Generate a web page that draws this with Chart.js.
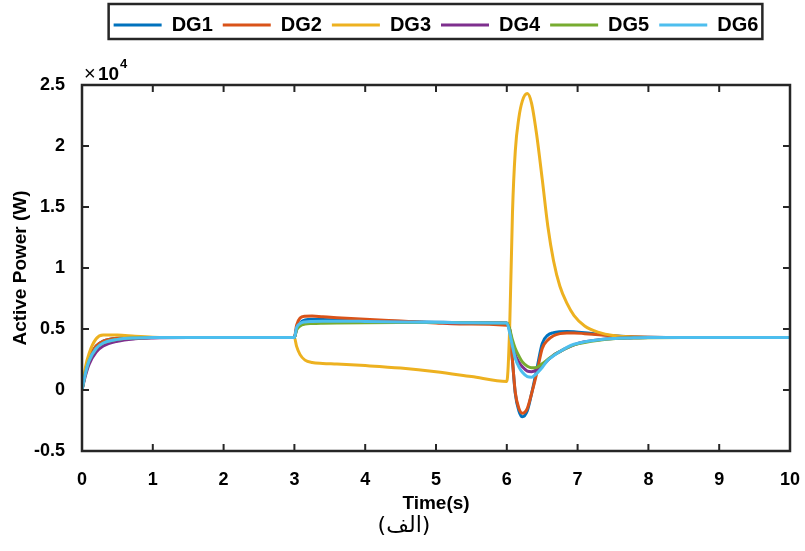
<!DOCTYPE html>
<html>
<head>
<meta charset="utf-8">
<title>Active Power - DG1..DG6</title>
<script src="https://cdn.jsdelivr.net/npm/chart.js@4.4.1/dist/chart.umd.min.js"></script>
<style>
    html, body { margin: 0; padding: 0; background: #ffffff; }
    #powerChart { display: block; }
</style>
</head>
<body>
<canvas id="powerChart" width="805" height="551"></canvas>
<script>
// Temps de simulation (s)
const TIME = [0, 0.05, 0.1, 0.2, 0.3, 0.5, 0.75, 1, 1.5, 2,
              2.5, 3, 3.03, 3.08, 3.15, 3.25, 3.4, 3.6, 4, 4.5,
              5, 5.5, 6, 6.04, 6.08, 6.12, 6.17, 6.22, 6.29, 6.35,
              6.42, 6.5, 6.58, 6.66, 6.75, 6.85, 6.95, 7.1, 7.3, 7.5,
              7.75, 8, 8.5, 9, 10];

// Puissance active de chaque DG (W)
const DG1 = [0, 1500, 2600, 3600, 4000, 4250, 4300, 4300, 4300, 4300,
             4300, 4300, 5000, 5500, 5750, 5800, 5780, 5750, 5700, 5620,
             5560, 5520, 5480, 5000, 2400, -300, -1700, -2200, -1700, -300,
             1600, 3800, 4500, 4700, 4780, 4800, 4780, 4700, 4560, 4450,
             4370, 4330, 4300, 4300, 4300];
const DG2 = [0, 1500, 2600, 3600, 4000, 4250, 4300, 4300, 4300, 4300,
             4300, 4300, 5300, 5900, 6050, 6070, 6000, 5930, 5800, 5650,
             5500, 5400, 5300, 5000, 2400, -200, -1500, -1900, -1500, -300,
             1300, 3400, 4100, 4450, 4620, 4680, 4680, 4620, 4520, 4430,
             4360, 4320, 4300, 4300, 4300];
const DG3 = [0, 1900, 3000, 4200, 4500, 4500, 4400, 4330, 4300, 4300,
             4300, 4300, 3600, 2900, 2450, 2250, 2180, 2130, 2000, 1800,
             1500, 1100, 700, 5000, 14500, 19600, 22300, 23700, 24300, 23500,
             21000, 17300, 13400, 10600, 8500, 7100, 6100, 5250, 4720, 4460,
             4350, 4310, 4300, 4300, 4300];
const DG4 = [0, 1200, 2100, 3100, 3600, 4000, 4200, 4270, 4300, 4300,
             4300, 4300, 5000, 5400, 5550, 5600, 5600, 5590, 5570, 5550,
             5530, 5510, 5500, 4900, 3800, 2900, 2300, 1900, 1550, 1500,
             1650, 2000, 2450, 2850, 3150, 3450, 3700, 3950, 4120, 4220,
             4270, 4300, 4300, 4300, 4300];
const DG5 = [0, 1400, 2400, 3400, 3850, 4150, 4270, 4300, 4300, 4300,
             4300, 4300, 4900, 5250, 5400, 5450, 5480, 5500, 5520, 5530,
             5530, 5520, 5500, 5000, 4100, 3400, 2800, 2300, 1950, 1820,
             1850, 2150, 2500, 2850, 3150, 3450, 3700, 3900, 4080, 4200,
             4260, 4290, 4300, 4300, 4300];
const DG6 = [0, 1400, 2400, 3400, 3850, 4150, 4270, 4300, 4300, 4300,
             4300, 4300, 5100, 5450, 5580, 5620, 5640, 5640, 5620, 5580,
             5550, 5520, 5500, 4700, 3600, 2600, 1900, 1450, 1100, 1050,
             1350, 1850, 2450, 2800, 3150, 3500, 3750, 3950, 4120, 4220,
             4270, 4300, 4300, 4300, 4300];

const SERIES = [DG1, DG2, DG3, DG4, DG5, DG6];
const SERIES_NAMES = ['DG1', 'DG2', 'DG3', 'DG4', 'DG5', 'DG6'];
const SERIES_COLORS = ['#0072BD', '#D95319', '#EDB120', '#7E2F8E', '#77AC30', '#4DBEEE'];

const Y_MULTIPLIER = 10000; // axe affiché en x10^4
const X_TITLE = 'Time(s)';
const Y_TITLE = 'Active Power (W)';
const CAPTION = '(الف)';

const AXIS_COLOR = '#262626';
const FONT_FAMILY = '"Liberation Sans", Arial, sans-serif';

// Construit les datasets {x, y} à partir des tableaux
function buildDatasets() {
    return SERIES.map((values, i) => ({
        label: SERIES_NAMES[i],
        data: values.map((v, k) => ({ x: TIME[k], y: v })),
        borderColor: SERIES_COLORS[i],
        backgroundColor: SERIES_COLORS[i],
        borderWidth: 3,
        pointRadius: 0,
        cubicInterpolationMode: 'monotone',
        order: SERIES.length - i // DG6 dessiné au-dessus
    }));
}

// Hauteur réservée au-dessus du graphe pour la légende
const legendHeight = {
    id: 'legendHeight',
    beforeInit(chart) {
        const originalFit = chart.legend.fit;
        chart.legend.fit = function fit() {
            originalFit.bind(chart.legend)();
            this.height = 80;
        };
    }
};

// Cadre style MATLAB : boîte, graduations internes, multiplicateur, bord de légende, légende (الف)
const matlabFrame = {
    id: 'matlabFrame',
    afterDatasetsDraw(chart) {
        const { ctx, chartArea: a, scales } = chart;
        ctx.save();
        ctx.strokeStyle = AXIS_COLOR;
        ctx.lineWidth = 2.5;
        ctx.strokeRect(a.left, a.top, a.right - a.left, a.bottom - a.top);

        const tick = 7;
        ctx.lineWidth = 2;
        ctx.beginPath();
        scales.x.ticks.forEach(t => {
            const px = scales.x.getPixelForValue(t.value);
            ctx.moveTo(px, a.bottom); ctx.lineTo(px, a.bottom - tick);
            ctx.moveTo(px, a.top); ctx.lineTo(px, a.top + tick);
        });
        scales.y.ticks.forEach(t => {
            const py = scales.y.getPixelForValue(t.value);
            ctx.moveTo(a.left, py); ctx.lineTo(a.left + tick, py);
            ctx.moveTo(a.right, py); ctx.lineTo(a.right - tick, py);
        });
        ctx.stroke();

        // x10^4
        ctx.fillStyle = '#000';
        ctx.textBaseline = 'alphabetic';
        ctx.textAlign = 'left';
        ctx.font = '20px ' + FONT_FAMILY;
        ctx.fillText('\u00d7', a.left + 2, a.top - 5);
        ctx.font = 'bold 19px ' + FONT_FAMILY;
        ctx.fillText('10', a.left + 16, a.top - 5);
        ctx.font = 'bold 13px ' + FONT_FAMILY;
        ctx.fillText('4', a.left + 38, a.top - 17);

        // bord de la légende
        const boxes = chart.legend.legendHitBoxes;
        if (boxes && boxes.length) {
            const first = boxes[0], last = boxes[boxes.length - 1];
            const left = first.left - 5;
            const right = last.left + last.width + 4;
            ctx.strokeStyle = AXIS_COLOR;
            ctx.lineWidth = 2.5;
            ctx.strokeRect(left, 4, right - left, 35);
        }

        // légende sous le titre de l'axe x
        ctx.font = '22px "DejaVu Sans", sans-serif';
        ctx.textAlign = 'center';
        ctx.textBaseline = 'middle';
        ctx.direction = 'rtl';
        ctx.fillText(CAPTION, 404, 526);
        ctx.restore();
    }
};

function initChart() {
    const ctx = document.getElementById('powerChart').getContext('2d');
    return new Chart(ctx, {
        type: 'line',
        data: { datasets: buildDatasets() },
        options: {
            responsive: false,
            animation: false,
            devicePixelRatio: 1,
            layout: { padding: { top: 5, right: 15, bottom: 0, left: 0 } },
            plugins: {
                legend: {
                    position: 'top',
                    fullSize: false,
                    labels: {
                        boxWidth: 48,
                        boxHeight: 0,
                        padding: 10,
                        color: '#000',
                        font: { family: FONT_FAMILY, size: 20, weight: 'bold' },
                        sort: (a, b) => a.datasetIndex - b.datasetIndex
                    }
                },
                tooltip: { enabled: false }
            },
            scales: {
                x: {
                    type: 'linear',
                    min: 0, max: 10,
                    ticks: {
                        stepSize: 1,
                        padding: 10,
                        color: '#000',
                        maxRotation: 0,
                        font: { family: FONT_FAMILY, size: 18, weight: 'bold' }
                    },
                    grid: { display: false },
                    border: { display: false },
                    title: {
                        display: true,
                        text: X_TITLE,
                        color: '#000',
                        font: { family: FONT_FAMILY, size: 19, weight: 'bold' },
                        padding: { top: 0, bottom: 36 }
                    },
                    afterFit(scale) {
                        scale.height = 100;
                        scale.paddingLeft = 0;
                        scale.paddingRight = 0;
                    }
                },
                y: {
                    min: -0.5 * Y_MULTIPLIER, max: 2.5 * Y_MULTIPLIER,
                    ticks: {
                        stepSize: 0.5 * Y_MULTIPLIER,
                        padding: 9,
                        color: '#000',
                        font: { family: FONT_FAMILY, size: 18, weight: 'bold' },
                        callback: v => String(Math.round(v / Y_MULTIPLIER * 10) / 10)
                    },
                    grid: { display: false },
                    border: { display: false },
                    title: {
                        display: true,
                        text: Y_TITLE,
                        color: '#000',
                        font: { family: FONT_FAMILY, size: 19, weight: 'bold' },
                        padding: { top: 9, bottom: 0 }
                    },
                    afterFit(scale) { scale.width = 82; }
                }
            }
        },
        plugins: [legendHeight, matlabFrame]
    });
}

initChart();
</script>
</body>
</html>
